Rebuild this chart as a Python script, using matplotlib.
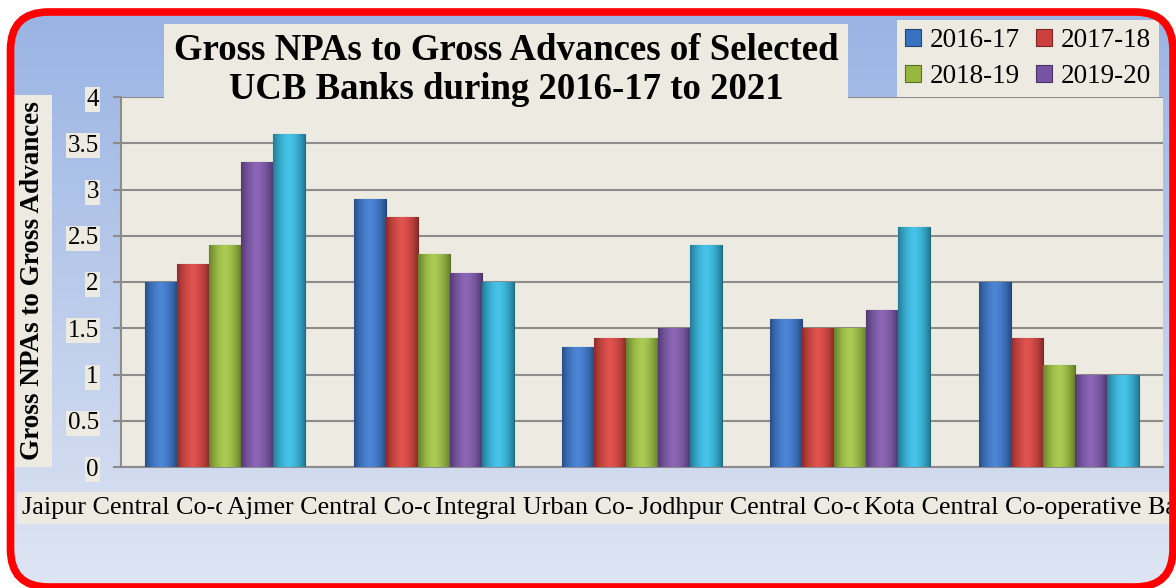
import numpy as np
import matplotlib
matplotlib.use('Agg')
from matplotlib import pyplot as plt
from matplotlib.patches import FancyBboxPatch
from matplotlib.colors import to_rgb

plt.rcParams['font.family'] = 'Liberation Serif'

banks = ['Jaipur Central Co-operative Bank Ltd.',
         'Ajmer Central Co-operative Bank Ltd.',
         'Integral Urban Co-operative Bank Ltd.',
         'Jodhpur Central Co-operative Bank Ltd.',
         'Kota Central Co-operative Bank Ltd.']
years = ['2016-17', '2017-18', '2018-19', '2019-20', '2020-21']
npa_2016_17 = [2.0, 2.9, 1.3, 1.6, 2.0]
npa_2017_18 = [2.2, 2.7, 1.4, 1.5, 1.4]
npa_2018_19 = [2.4, 2.3, 1.4, 1.5, 1.1]
npa_2019_20 = [3.3, 2.1, 1.5, 1.7, 1.0]
npa_2020_21 = [3.6, 2.0, 2.4, 2.6, 1.0]
yticks = [0, 0.5, 1, 1.5, 2, 2.5, 3, 3.5, 4]
ytick_labels = ['0', '0.5', '1', '1.5', '2', '2.5', '3', '3.5', '4']

series = [npa_2016_17, npa_2017_18, npa_2018_19, npa_2019_20, npa_2020_21]
colors = ['#3a72c2', '#cc403c', '#97b83f', '#7853a3', '#33b0d4']
beige = '#edebe1'
W, H = 1176, 588

fig = plt.figure(figsize=(W / 100, H / 100), dpi=100)

# background gradient inside the red rounded frame
bg = fig.add_axes([0, 0, 1, 1])
bg.set_xlim(0, W)
bg.set_ylim(H, 0)
bg.axis('off')
top = np.array(to_rgb('#97b2e3'))
bot = np.array(to_rgb('#dfe5f3'))
t = np.linspace(0, 1, 256)[:, None]
grad = (top * (1 - t) + bot * t)[:, None, :]
frame = FancyBboxPatch((10.5, 12), 1162.5, 575, boxstyle='round,pad=0,rounding_size=38',
                       facecolor='none', edgecolor='none', transform=bg.transData)
bg.add_patch(frame)
im = bg.imshow(grad, extent=[0, W, H, 0], aspect='auto', interpolation='bilinear')
im.set_clip_path(frame)

# main plot area
ax = fig.add_axes([121 / W, 1 - 467 / H, (1163 - 121) / W, (467 - 97) / H])
ax.set_facecolor(beige)

x = np.arange(len(banks))
bw = 0.1535
offs = (np.arange(len(series)) - 2) * bw


def shade(bar, color):
    c = np.array(to_rgb(color))
    s = np.linspace(-1, 1, 64)
    k = 1 - 0.3 * s ** 2
    img = np.clip(c[None, :] * k[:, None] + 0.08 * (1 - np.abs(s))[:, None], 0, 1)[None, :, :]
    x0, y0 = bar.get_x(), bar.get_y()
    m = ax.imshow(img, extent=[x0, x0 + bar.get_width(), y0, y0 + bar.get_height()],
                  aspect='auto', interpolation='bilinear', zorder=3)
    m.set_clip_path(bar)


containers = []
for i, (vals, col) in enumerate(zip(series, colors)):
    cont = ax.bar(x + offs[i], vals, bw, color=col, edgecolor=np.array(to_rgb(col)) * 0.6,
                  linewidth=0.8, zorder=3, label=years[i])
    containers.append(cont)
    for b in cont:
        shade(b, col)

ax.set_xlim(-0.5, len(banks) - 0.5)
ax.set_ylim(0, 4)
ax.set_yticks(yticks)
ax.set_yticklabels(ytick_labels, fontsize=18)
ax.set_xticks([])
ax.grid(axis='y', color='#8c8c8c', linewidth=1.5, zorder=1)
ax.set_axisbelow(True)
for s in ['top', 'right']:
    ax.spines[s].set_visible(False)
for s in ['left', 'bottom']:
    ax.spines[s].set_color('#8c8c8c')
    ax.spines[s].set_linewidth(1.5)
ax.tick_params(axis='y', length=6, width=1.5, color='#8c8c8c', pad=10)
for lab in ax.get_yticklabels():
    lab.set_bbox(dict(facecolor=beige, edgecolor='none', pad=1))

# category labels, too long for their slots: each one hides the tail of the one before
label_x_px = [22, 227, 435, 639, 864]
for i, (name, px) in enumerate(zip(banks, label_x_px)):
    fig.text(px / W, 1 - 508 / H, name, ha='left', va='center', fontsize=18.8, zorder=4 + i,
             bbox=dict(facecolor=beige, edgecolor='none', boxstyle='square,pad=0.2'))

fig.text(33 / W, 1 - 281 / H, 'Gross NPAs to Gross Advances', rotation=90, ha='center',
         va='center', fontsize=19.5, fontweight='bold',
         bbox=dict(facecolor=beige, edgecolor='none', boxstyle='square,pad=0.25'))

fig.text(506 / W, 1 - 70 / H, 'Gross NPAs to Gross Advances of Selected\nUCB Banks during 2016-17 to 2021',
         ha='center', va='center', fontsize=26.5, fontweight='bold', linespacing=1.15,
         bbox=dict(facecolor=beige, edgecolor='none', boxstyle='square,pad=0.25'))

order = [0, 2, 1, 3]
leg = ax.legend(handles=[containers[i] for i in order], labels=[years[i] for i in order],
                ncol=2, loc='upper left',
                bbox_to_anchor=(897 / W, 1 - 20 / H), bbox_transform=fig.transFigure,
                borderaxespad=0, frameon=True, fancybox=False, fontsize=19.5,
                handlelength=0.6, handleheight=0.6, handletextpad=0.3,
                columnspacing=0.6, borderpad=0.3, labelspacing=0.4)
leg.get_frame().set_facecolor(beige)
leg.get_frame().set_edgecolor('none')
leg.get_frame().set_alpha(1)

border = FancyBboxPatch((10.5, 12), 1162.5, 575, boxstyle='round,pad=0,rounding_size=38',
                        facecolor='none', edgecolor='#ff0000', linewidth=5.5,
                        transform=bg.transData, zorder=20)
fig.add_artist(border)

fig.savefig('out.png', dpi=100)
